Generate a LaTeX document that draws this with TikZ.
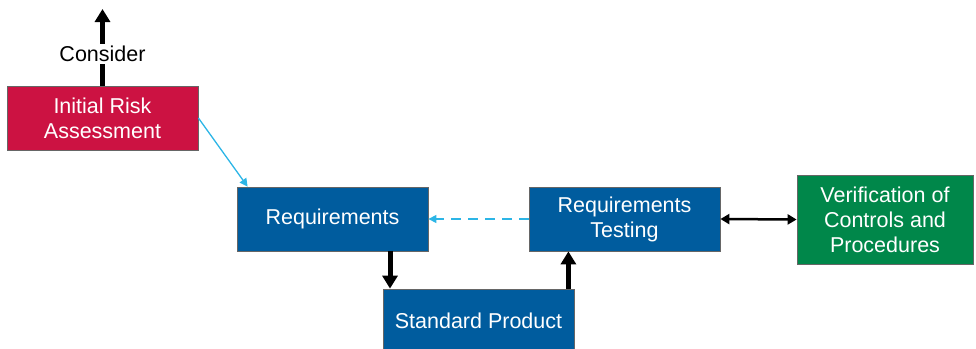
\documentclass[tikz,border=0pt]{standalone}
\usepackage{fontspec}
\setmainfont{Liberation Sans}
\usetikzlibrary{arrows.meta}
\definecolor{riskred}{HTML}{CC1242}
\definecolor{reqblue}{HTML}{005C9E}
\definecolor{vergreen}{HTML}{00874A}
\definecolor{cyanline}{HTML}{2CB5E6}
\begin{document}
\begin{tikzpicture}[x=1pt,y=-1pt,
  box/.style={draw=black!60, line width=0.8pt, text=white, align=center,
    font=\fontsize{21.5}{25}\selectfont, inner sep=0pt},
  thickarrow/.style={line width=5pt, -{Triangle[width=15pt,length=13pt]}},
  cyanarrow/.style={cyanline, line width=1.3pt, -{Triangle[width=8pt,length=8pt]}}]
\useasboundingbox (0,0) rectangle (976,348);
\node[box, fill=riskred, minimum width=191pt, minimum height=64pt] (risk) at (102.5,118) {Initial Risk\\Assessment};
\node[box, fill=reqblue, minimum width=191pt, minimum height=64pt] (req) at (332.5,219) {Requirements};
\node[box, fill=reqblue, minimum width=191pt, minimum height=64pt] (test) at (624.5,219) {Requirements\\Testing};
\node[box, fill=reqblue, minimum width=191pt, minimum height=64pt] (std) at (478.5,321) {Standard Product};
\node[box, fill=vergreen, minimum width=176pt, minimum height=89pt] (ver) at (885,219.5) {Verification of\\Controls and\\Procedures};
\coordinate (top) at (102.5,9);
\draw[thickarrow] (risk.north) -- (top);
\node[fill=white, inner sep=2pt, font=\fontsize{21.5}{25}\selectfont] (consider) at (102.5,54) {Consider};
\draw[cyanarrow] (risk.east) -- ([xshift=11pt]req.north west);
\draw[cyanarrow, dash pattern=on 10pt off 7pt] (test.west) -- (req.east);
\draw[thickarrow] ([xshift=57.5pt]req.south) -- ([xshift=57.5pt]req.south |- std.north);
\draw[thickarrow] ([xshift=-6pt]std.north east) -- ([xshift=-6pt]std.north east |- test.south);
\draw[line width=2.5pt, {Triangle[width=10pt,length=9pt]}-{Triangle[width=10pt,length=9pt]}] (test.east) -- (ver.west);
\end{tikzpicture}
\end{document}
